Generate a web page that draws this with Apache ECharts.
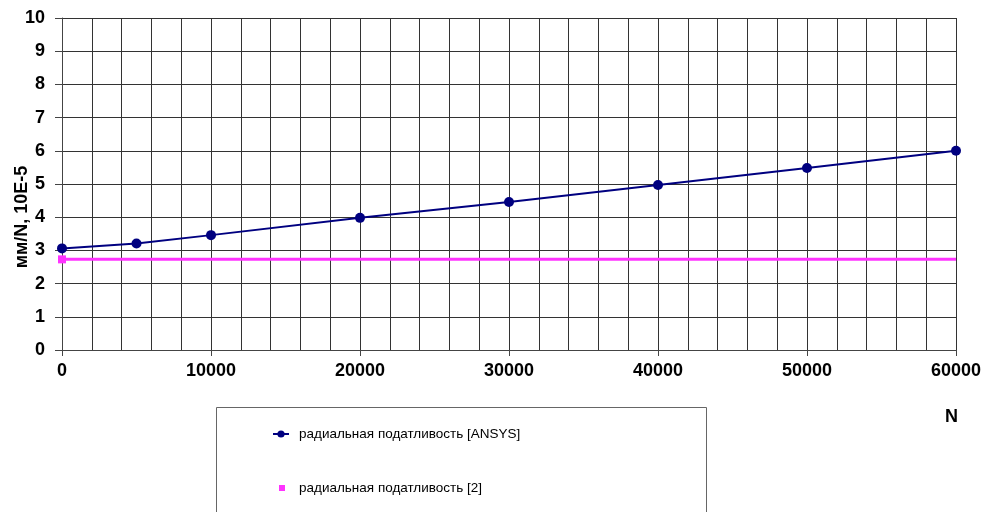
<!DOCTYPE html>
<html>
<head>
<meta charset="utf-8">
<script src="https://cdn.jsdelivr.net/npm/echarts@6/dist/echarts.min.js"></script>
<style>
  html, body { margin: 0; padding: 0; background: #fff; }
  #chart { width: 984px; height: 512px; }
</style>
</head>
<body>
<div id="chart"></div>
<script>
// load values, N
var loads = [0, 5000, 10000, 20000, 30000, 40000, 50000, 60000]
// radial compliance from ANSYS, mm/N * 10E-5
var ansysValues = [3.06, 3.21, 3.46, 3.98, 4.46, 4.97, 5.48, 6.0]
// reference value [2], constant over the range
var refLoads = [0, 60000]
var refValues = [2.73, 2.73]

var nameAnsys = 'радиальная податливость [ANSYS]'
var nameRef = 'радиальная податливость [2]'

var chart = echarts.init(document.getElementById('chart'))

var font = 'Liberation Sans, Arial, sans-serif'

chart.setOption({
  animation: false,
  backgroundColor: '#fff',
  textStyle: { fontFamily: font },
  grid: { left: 62, right: 28, top: 18, bottom: 162, containLabel: false, outerBoundsMode: 'none' },
  legend: [
    {
      data: [nameAnsys],
      orient: 'vertical',
      left: 267,
      top: 422,
      itemWidth: 16,
      itemHeight: 9,
      textStyle: { fontSize: 13.5, color: '#000', padding: [0, 0, 0, 5] }
    },
    {
      data: [{ name: nameRef, icon: 'rect' }],
      orient: 'vertical',
      left: 274,
      top: 476,
      itemWidth: 6,
      itemHeight: 6,
      textStyle: { fontSize: 13.5, color: '#000', padding: [0, 0, 0, 9] }
    }
  ],
  graphic: [
    {
      type: 'rect',
      shape: { x: 216.5, y: 407.5, width: 490, height: 130 },
      style: { fill: 'none', stroke: '#666', lineWidth: 1 },
      z: -1
    },
    {
      type: 'text',
      left: 945,
      top: 408,
      style: { text: 'N', fontSize: 18, fontWeight: 'bold', fill: '#000', fontFamily: font }
    },
    {
      type: 'text',
      x: 22,
      y: 217,
      rotation: Math.PI / 2,
      style: {
        text: 'мм/N, 10E-5',
        fontSize: 18,
        fontWeight: 'bold',
        fill: '#000',
        fontFamily: font,
        align: 'center',
        verticalAlign: 'middle'
      }
    }
  ],
  xAxis: {
    type: 'value',
    min: 0,
    max: 60000,
    interval: 10000,
    axisLine: { lineStyle: { color: '#444', width: 1 } },
    axisTick: { show: true, length: 6, lineStyle: { color: '#444' } },
    axisLabel: {
      fontSize: 18,
      fontWeight: 'bold',
      color: '#000',
      margin: 12,
      fontFamily: font,
      formatter: function (v) { return String(v) }
    },
    splitLine: { show: true, lineStyle: { color: '#333', width: 1 } },
    minorTick: { show: false, splitNumber: 5 },
    minorSplitLine: { show: true, lineStyle: { color: '#333', width: 1 } }
  },
  yAxis: {
    type: 'value',
    min: 0,
    max: 10,
    interval: 1,
    axisLine: { show: true, lineStyle: { color: '#444', width: 1 } },
    axisTick: { show: true, length: 7, lineStyle: { color: '#444' } },
    axisLabel: { fontSize: 18, fontWeight: 'bold', color: '#000', margin: 17, fontFamily: font },
    splitLine: { show: true, lineStyle: { color: '#333', width: 1 } }
  },
  series: [
    {
      name: nameRef,
      type: 'line',
      color: '#ff33ff',
      data: refLoads.map(function (x, i) {
        return {
          value: [x, refValues[i]],
          symbol: i === 0 ? 'rect' : 'none',
          symbolSize: 8
        }
      }),
      lineStyle: { color: '#ff33ff', width: 3 },
      itemStyle: { color: '#ff33ff' },
      z: 2
    },
    {
      name: nameAnsys,
      type: 'line',
      color: '#000080',
      data: loads.map(function (x, i) { return [x, ansysValues[i]] }),
      symbol: 'circle',
      symbolSize: 10,
      lineStyle: { color: '#000080', width: 2 },
      itemStyle: { color: '#000080' },
      z: 3
    }
  ]
})
</script>
</body>
</html>
